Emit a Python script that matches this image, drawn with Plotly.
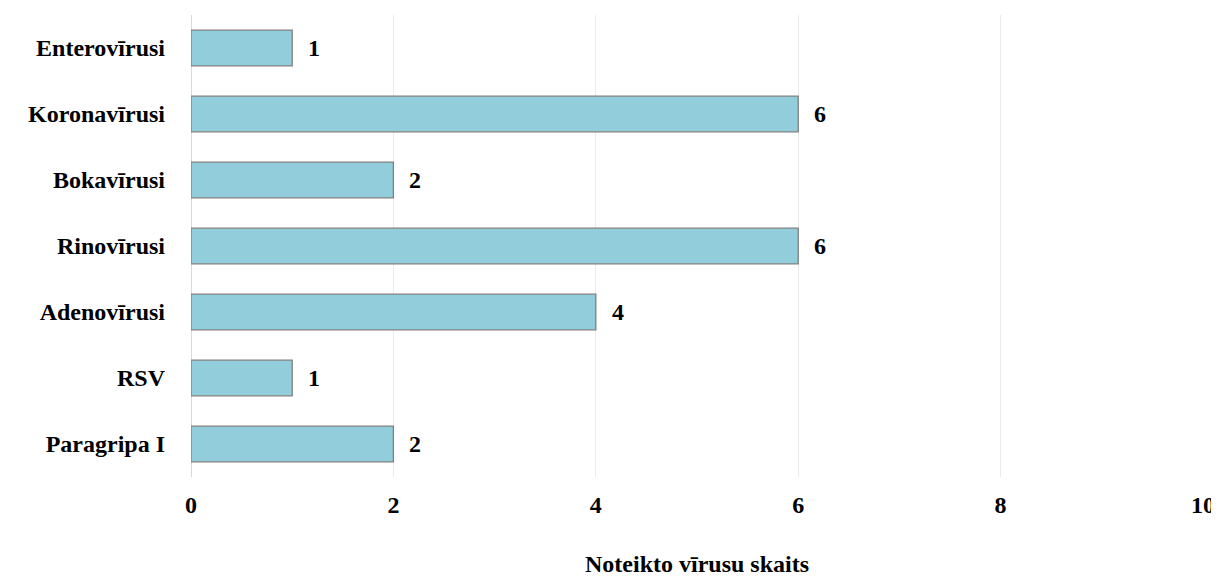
import plotly.graph_objects as go

categories = ["Paragripa I", "RSV", "Adenovīrusi", "Rinovīrusi", "Bokavīrusi", "Koronavīrusi", "Enterovīrusi"]
values = [2, 1, 4, 6, 2, 6, 1]
x_ticks = [0, 2, 4, 6, 8, 10]

font_family = "Liberation Serif, Times New Roman, serif"
fs = 24

fig = go.Figure(go.Bar(
    y=categories,
    x=values,
    orientation="h",
    width=0.54,
    marker=dict(color="#92CDDC", line=dict(color="#7F7F7F", width=1.3)),
    cliponaxis=False,
))

for c, v in zip(categories, values):
    fig.add_annotation(x=v, y=c, text=f"<b>{v}</b>", showarrow=False,
                       xanchor="left", xshift=14,
                       font=dict(family=font_family, size=fs, color="black"))

fig.update_layout(
    width=1211, height=571,
    margin=dict(l=183, r=16, t=7, b=102, autoexpand=False),
    plot_bgcolor="white", paper_bgcolor="white",
    showlegend=False,
    font=dict(family=font_family, size=fs, color="black"),
    xaxis=dict(
        range=[0, 10],
        tickvals=x_ticks,
        ticktext=[f"<b>{t}</b>" for t in x_ticks],
        showgrid=True, gridcolor="#EBEBEB", gridwidth=1,
        zeroline=True, zerolinecolor="#D9D9D9", zerolinewidth=1,
        showline=False, ticks="",
        ticklabelstandoff=11,
        automargin=False,
        title=dict(text="<b>Noteikto vīrusu skaits</b>", standoff=38,
                   font=dict(family=font_family, size=fs)),
        fixedrange=True,
    ),
    yaxis=dict(
        categoryorder="array", categoryarray=categories,
        ticktext=[f"<b>{c}</b>" for c in categories], tickvals=categories,
        showgrid=False, ticks="", showline=False,
        ticklabelstandoff=25,
        automargin=False,
        range=[-0.5, 6.5],
    ),
    bargap=0.46,
)

fig.write_html("out.html")
